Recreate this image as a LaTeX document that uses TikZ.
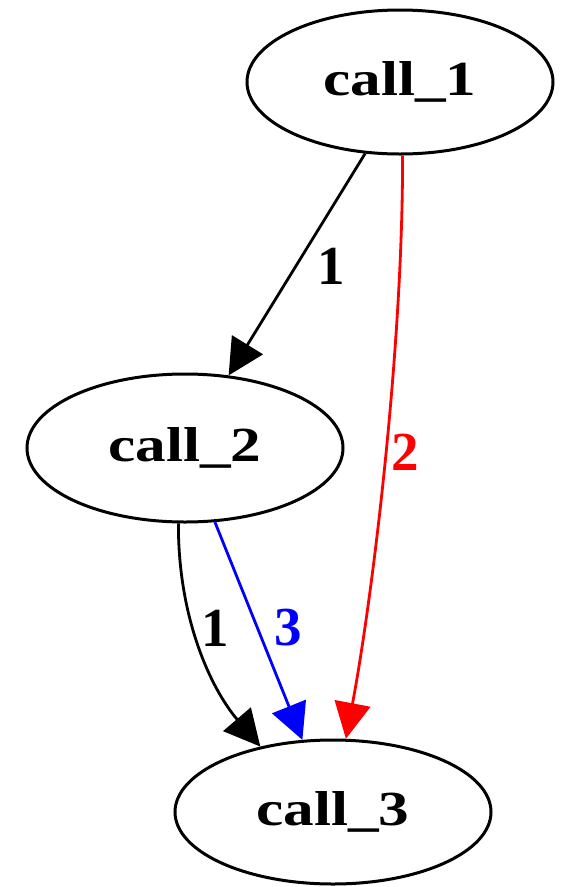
\documentclass[tikz,border=0pt]{standalone}
\usepackage{fontspec}
\setmainfont{Liberation Serif}
\usetikzlibrary{arrows.meta,shapes.geometric}
\definecolor{myred}{RGB}{255,0,0}
\definecolor{myblue}{RGB}{0,0,255}
\begin{document}
\begin{tikzpicture}[x=1pt,y=-1pt,
  state/.style={draw, ellipse, line width=3pt, minimum width=306pt, minimum height=144pt, inner sep=0pt, font=\fontsize{49}{52}\selectfont\bfseries},
  edge/.style={line width=2.8pt, -{Triangle[length=36pt,width=36pt]}},
  elabel/.style={font=\fontsize{55}{58}\selectfont\bfseries, inner sep=0pt}]
\useasboundingbox (0,0) rectangle (561,887);
\node[state] (c1) at (400,82) {\scalebox{1.25}[1]{call\_1}};
\node[state, minimum width=316pt, minimum height=148pt] (c2) at (185,448) {\scalebox{1.25}[1]{call\_2}};
\node[state, minimum width=316pt, minimum height=144pt] (c3) at (333,812) {\scalebox{1.25}[1]{call\_3}};
\draw[edge] (c1.-116) -- (c2.59);
\draw[edge, myred] (c1.-88) .. controls (403,350) and (372,600) .. (c3.80);
\draw[edge] (c2.-95) .. controls (178,620) and (212,690) .. (c3.138);
\draw[edge, myblue] (c2.-68) -- (c3.113);
\node[elabel] (l1) at (331,266) {1};
\node[elabel, text=myred] (l2) at (405,452) {2};
\node[elabel] (l3) at (215,628) {1};
\node[elabel, text=myblue] (l4) at (288,628) {3};
\end{tikzpicture}
\end{document}
